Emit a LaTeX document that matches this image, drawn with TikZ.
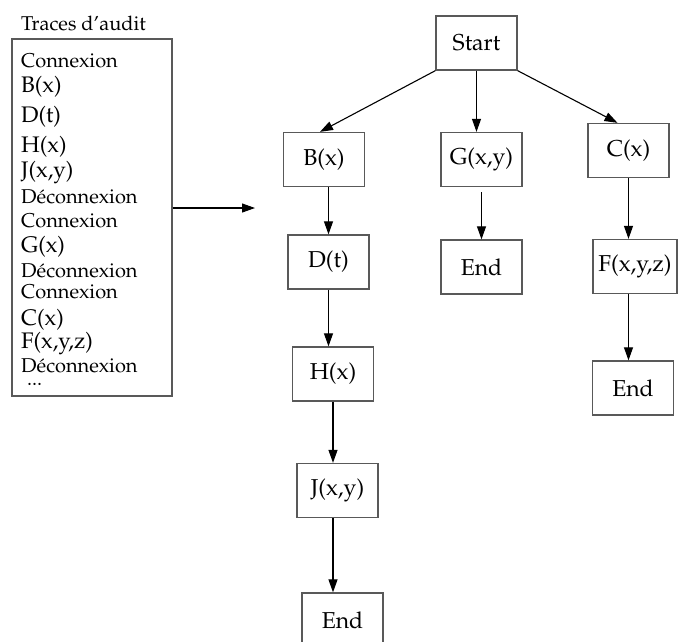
\documentclass[tikz,border=0pt]{standalone}
\usepackage[T1]{fontenc}
\usepackage{mathpazo}
\usetikzlibrary{arrows.meta}
\definecolor{boxline}{gray}{0.35}
\begin{document}
\begin{tikzpicture}[x=1pt,y=-1pt,
  smalltxt/.style={font=\fontsize{20}{24}\selectfont, inner sep=0pt, anchor=base west},
  bigtxt/.style={font=\fontsize{22.5}{27}\selectfont, inner sep=0pt, anchor=base west},
  stepbox/.style={draw=boxline, line width=1.3pt, inner sep=0pt,
    minimum width=81pt, minimum height=54pt, font=\fontsize{23}{27}\selectfont},
  arr/.style={line width=1.1pt, -{Triangle[length=13pt,width=9pt]}}]
\useasboundingbox (0,0) rectangle (678,641);
\begin{scope}
\clip (0,0) rectangle (678,641);

% audit trace list
\node[smalltxt] (title) at (21,30) {Traces d'audit};
\node[draw=boxline, line width=1.3pt, minimum width=160pt, minimum height=357pt, inner sep=0pt]
  (traces) at (92,217.5) {};
\node[smalltxt] (l1)  at (21,67)  {Connexion};
\node[bigtxt]   (l2)  at (21,92)  {B(x)};
\node[bigtxt]   (l3)  at (21,122) {D(t)};
\node[bigtxt]   (l4)  at (21,152) {H(x)};
\node[bigtxt]   (l5)  at (21,177) {J(x,y)};
\node[smalltxt] (l6)  at (21,203) {D\'econnexion};
\node[smalltxt] (l7)  at (21,227) {Connexion};
\node[bigtxt]   (l8)  at (21,252) {G(x)};
\node[smalltxt] (l9)  at (21,277) {D\'econnexion};
\node[smalltxt] (l10) at (21,298) {Connexion};
\node[bigtxt]   (l11) at (21,325) {C(x)};
\node[bigtxt]   (l12) at (21,348) {F(x,y,z)};
\node[smalltxt] (l13) at (21,372) {D\'econnexion};
\node[smalltxt] (l14) at (27,385) {...};

\coordinate (tip) at (255,208);
\draw[arr] (traces.east |- tip) -- (tip);

% execution tree
\node[stepbox] (start) at (476.5,43)  {Start};
\node[stepbox] (bx)    at (324,159.5) {B(x)};
\node[stepbox] (gxy)   at (481.5,159.5) {G(x,y)};
\node[stepbox] (cx)    at (628.5,150.5) {C(x)};
\node[stepbox] (dt)    at (328.5,262) {D(t)};
\node[stepbox] (endg)  at (481.5,267) {End};
\node[stepbox, minimum width=84pt] (fxyz) at (635,266.5) {F(x,y,z)};
\node[stepbox] (hx)    at (333,374)   {H(x)};
\node[stepbox] (endf)  at (633,388)   {End};
\node[stepbox] (jxy)   at (337.5,490.5) {J(x,y)};
\node[stepbox] (endj)  at (342.5,620) {End};

\draw[arr] (start.south west) -- ([xshift=-4pt]bx.north);
\draw[arr] (start.south) -- (start.south |- gxy.north);
\draw[arr] (start.south east) -- ([xshift=-11pt]cx.north);
\draw[arr] (dt.north |- bx.south) -- (dt.north);
\draw[arr] ([yshift=-5pt]gxy.south) -- (endg.north);
\draw[arr] (cx.south) -- (cx.south |- fxyz.north);
\draw[arr] (dt.south) -- (dt.south |- hx.north);
\draw[arr] (hx.south) -- (hx.south |- jxy.north);
\draw[arr] (jxy.south -| hx.south) -- (endj.north -| hx.south);
\draw[arr] (fxyz.south -| cx.south) -- (endf.north -| cx.south);
\end{scope}
\end{tikzpicture}
\end{document}
